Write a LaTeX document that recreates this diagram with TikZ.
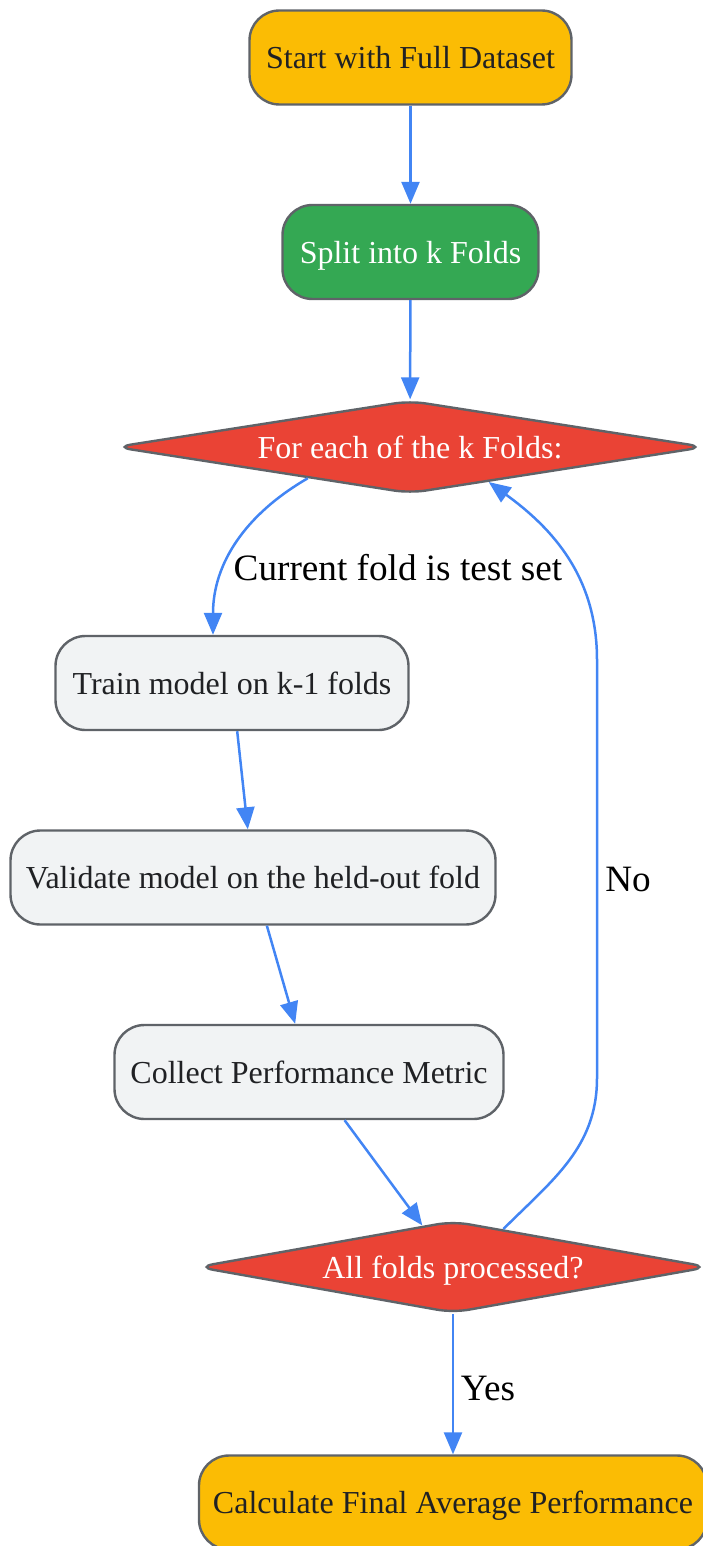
\documentclass[tikz,border=0pt]{standalone}
\usepackage{fontspec}
\setmainfont{Liberation Serif}
\usetikzlibrary{shapes.geometric,arrows.meta}
\definecolor{cyel}{HTML}{FBBC04}
\definecolor{cgreen}{HTML}{34A853}
\definecolor{cred}{HTML}{EA4335}
\definecolor{cgray}{HTML}{F1F3F4}
\definecolor{cborder}{HTML}{5F6368}
\definecolor{cblue}{HTML}{4285F4}
\definecolor{ctext}{HTML}{202124}
\begin{document}
\begin{tikzpicture}[x=0.5pt,y=-0.5pt,
  box/.style={draw=cborder, line width=1.2pt, rounded corners=15pt, minimum height=47pt,
    inner sep=0pt, text depth=0pt, font=\fontsize{16}{19}\selectfont, text=ctext},
  dia/.style={diamond, aspect=6.3, draw=cborder, line width=1.2pt, rounded corners=8pt,
    inner sep=0pt, text depth=0pt, fill=cred, text=white, font=\fontsize{16}{19}\selectfont},
  arr/.style={draw=cblue, line width=1.25pt, -{Triangle[length=11pt,width=9pt]}},
  lbl/.style={font=\fontsize{18.6}{22}\selectfont, text=black, inner sep=0pt}]
\useasboundingbox (0,0) rectangle (702,1546);
\node[box, fill=cyel, minimum width=161pt] (start) at (410.5,57.5) {Start with Full Dataset};
\node[box, fill=cgreen, text=white, minimum width=128pt] (split) at (410.5,252) {Split into k Folds};
\node[dia, minimum width=295pt, minimum height=46.5pt] (d1) at (410,447) {For each of the k Folds:};
\node[box, fill=cgray, minimum width=176.5pt] (train) at (232,683) {Train model on k-1 folds};
\node[box, fill=cgray, minimum width=242.5pt] (valid) at (253,877.5) {Validate model on the held-out fold};
\node[box, fill=cgray, minimum width=194.5pt] (collect) at (309,1072) {Collect Performance Metric};
\node[dia, minimum width=256pt, minimum height=46pt] (d2) at (453,1267) {All folds processed?};
\node[box, fill=cyel, minimum width=254pt] (calc) at (453,1502.5) {Calculate Final Average Performance};
\coordinate (nob) at (597,1078);
\coordinate (not) at (597,660);
\draw[arr] (start) -- (split);
\draw[arr] (split) -- (d1);
\draw[arr] (d1.197) to[out=210,in=90] ([xshift=-9.5pt]train.north);
\draw[arr] (train) -- (valid);
\draw[arr] (valid) -- (collect);
\draw[arr] (collect) -- (d2);
\draw[arr] (d2.37) to[out=45,in=-90] (nob) -- (not) to[out=90,in=-36] (d1.336);
\draw[arr] (d2) -- (calc);
\node[lbl] (lcur) at (398,568) {Current fold is test set};
\node[lbl] (lno) at (628,879) {No};
\node[lbl] (lyes) at (488,1388) {Yes};
\end{tikzpicture}
\end{document}
